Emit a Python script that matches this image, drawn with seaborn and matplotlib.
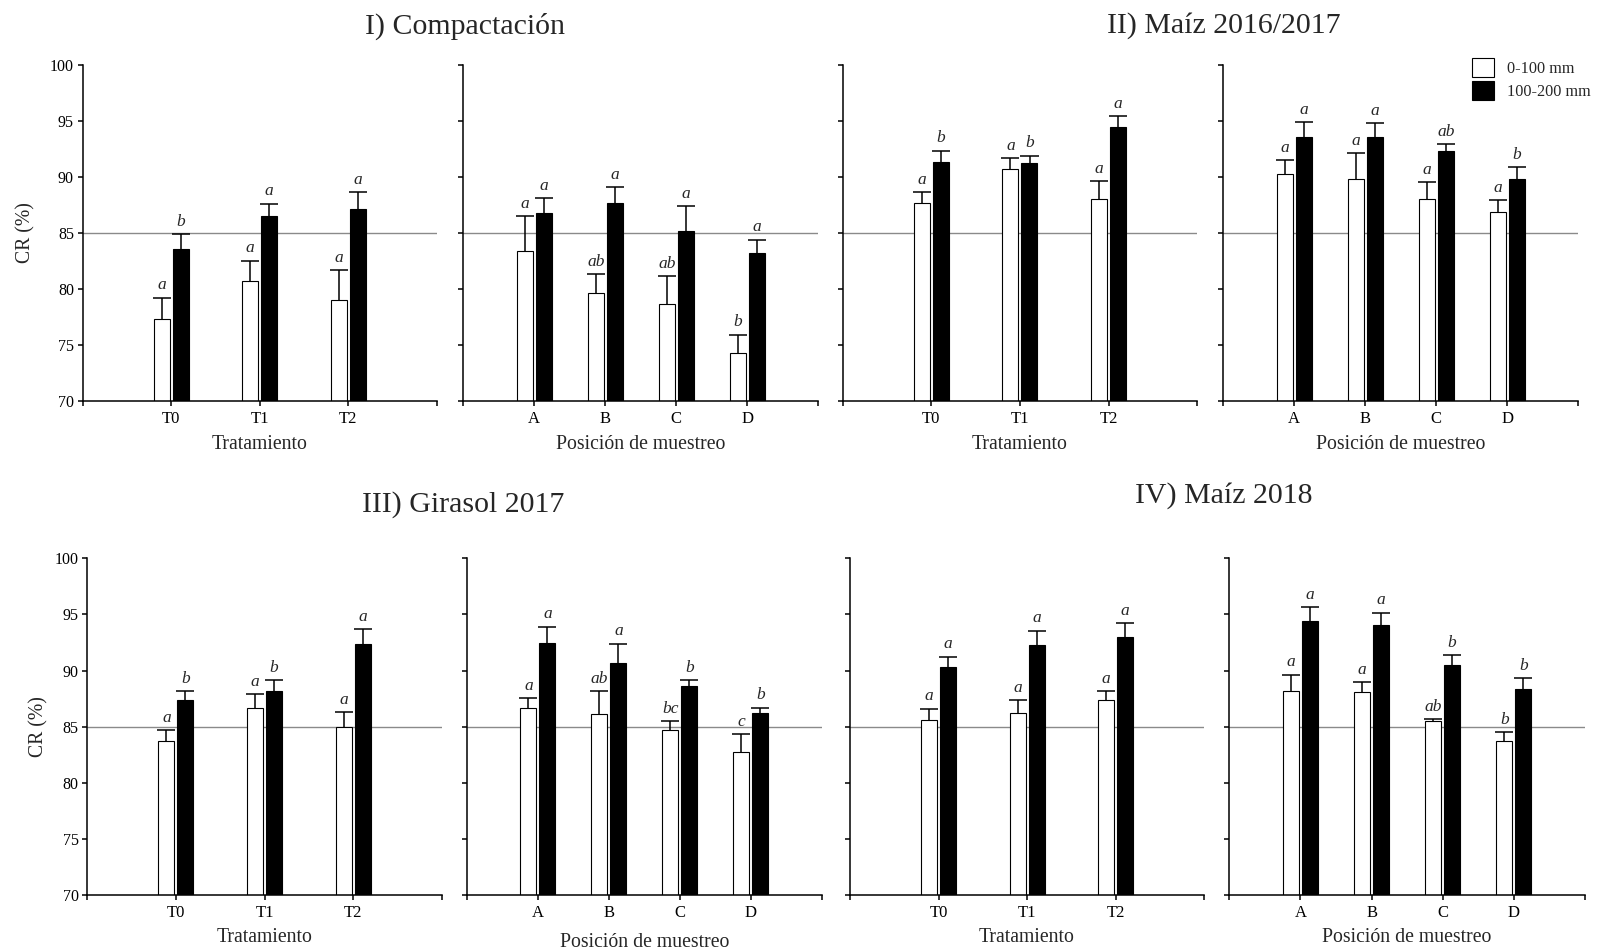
import matplotlib
matplotlib.use("Agg")
import matplotlib.pyplot as plt
import pandas as pd
import seaborn as sns
from matplotlib.patches import Patch

# ---------------------------------------------------------------- data
treatments = ["T0", "T1", "T2"]
positions = ["A", "B", "C", "D"]
depths = ["0-100 mm", "100-200 mm"]

# I) Compactación - Tratamiento
comp_trat_shallow = [77.3, 80.7, 79.0]
comp_trat_shallow_se = [1.9, 1.8, 2.65]
comp_trat_deep = [83.6, 86.5, 87.1]
comp_trat_deep_se = [1.3, 1.1, 1.55]
comp_trat_shallow_let = ["a", "a", "a"]
comp_trat_deep_let = ["b", "a", "a"]

# I) Compactación - Posición de muestreo
comp_pos_shallow = [83.4, 79.6, 78.6, 74.3]
comp_pos_shallow_se = [3.1, 1.7, 2.55, 1.6]
comp_pos_deep = [86.8, 87.7, 85.2, 83.2]
comp_pos_deep_se = [1.3, 1.4, 2.2, 1.2]
comp_pos_shallow_let = ["a", "ab", "ab", "b"]
comp_pos_deep_let = ["a", "a", "a", "a"]

# II) Maíz 2016/2017 - Tratamiento
m17_trat_shallow = [87.7, 90.7, 88.0]
m17_trat_shallow_se = [0.95, 1.0, 1.6]
m17_trat_deep = [91.35, 91.2, 94.5]
m17_trat_deep_se = [1.0, 0.7, 0.9]
m17_trat_shallow_let = ["a", "a", "a"]
m17_trat_deep_let = ["b", "b", "a"]

# II) Maíz 2016/2017 - Posición de muestreo
m17_pos_shallow = [90.3, 89.8, 88.0, 86.9]
m17_pos_shallow_se = [1.2, 2.3, 1.5, 1.05]
m17_pos_deep = [93.6, 93.6, 92.3, 89.8]
m17_pos_deep_se = [1.3, 1.2, 0.6, 1.05]
m17_pos_shallow_let = ["a", "a", "a", "a"]
m17_pos_deep_let = ["a", "a", "ab", "b"]

# III) Girasol 2017 - Tratamiento
gir_trat_shallow = [83.75, 86.7, 85.0]
gir_trat_shallow_se = [0.95, 1.2, 1.3]
gir_trat_deep = [87.35, 88.15, 92.4]
gir_trat_deep_se = [0.8, 1.0, 1.3]
gir_trat_shallow_let = ["a", "a", "a"]
gir_trat_deep_let = ["b", "b", "a"]

# III) Girasol 2017 - Posición de muestreo
gir_pos_shallow = [86.7, 86.15, 84.75, 82.75]
gir_pos_shallow_se = [0.85, 2.0, 0.75, 1.6]
gir_pos_deep = [92.45, 90.7, 88.65, 86.25]
gir_pos_deep_se = [1.45, 1.7, 0.5, 0.45]
gir_pos_shallow_let = ["a", "ab", "bc", "c"]
gir_pos_deep_let = ["a", "a", "b", "b"]

# IV) Maíz 2018 - Tratamiento
m18_trat_shallow = [85.6, 86.25, 87.35]
m18_trat_shallow_se = [1.0, 1.1, 0.8]
m18_trat_deep = [90.3, 92.25, 92.95]
m18_trat_deep_se = [0.95, 1.3, 1.25]
m18_trat_shallow_let = ["a", "a", "a"]
m18_trat_deep_let = ["a", "a", "a"]

# IV) Maíz 2018 - Posición de muestreo
m18_pos_shallow = [88.15, 88.1, 85.55, 83.7]
m18_pos_shallow_se = [1.5, 0.85, 0.1, 0.8]
m18_pos_deep = [94.4, 94.1, 90.5, 88.35]
m18_pos_deep_se = [1.25, 1.05, 0.9, 0.95]
m18_pos_shallow_let = ["a", "a", "ab", "b"]
m18_pos_deep_let = ["a", "a", "b", "b"]

titles = ["I) Compactación", "II) Maíz 2016/2017", "III) Girasol 2017", "IV) Maíz 2018"]
xlabel_trat = "Tratamiento"
xlabel_pos = "Posición de muestreo"
ylabel = "CR (%)"
threshold = 85

# ---------------------------------------------------------------- style
sns.set_style("ticks")
plt.rcParams["font.family"] = ["Liberation Serif", "DejaVu Serif"]
plt.rcParams["axes.linewidth"] = 1.1

FIG_W, FIG_H = 1600, 950
fig = plt.figure(figsize=(FIG_W / 100, FIG_H / 100), dpi=100)


def rect(left, top, width, height):
    return [left / FIG_W, 1 - (top + height) / FIG_H, width / FIG_W, height / FIG_H]


def draw_panel(box, cats, shallow, shallow_se, deep, deep_se, shallow_let, deep_let,
               xlabel, show_y, xlabel_y):
    ax = fig.add_axes(rect(*box))
    n = len(cats)
    df = pd.DataFrame({
        "cat": cats * 2,
        "CR": shallow + deep,
        "depth": [depths[0]] * n + [depths[1]] * n,
    })
    ppu = box[2] / (n + 1)          # pixels per category unit
    sns.barplot(data=df, x="cat", y="CR", hue="depth", order=cats, hue_order=depths,
                palette=["white", "black"], saturation=1, edgecolor="black",
                linewidth=0.8, width=2 * 19 / ppu, gap=3 / 19, errorbar=None,
                legend=False, ax=ax, zorder=2)
    ax.axhline(threshold, color="#8a8a8a", lw=1.0, zorder=1)

    cap = 9 / ppu
    for container, vals, ses, lets in zip(ax.containers, [shallow, deep],
                                          [shallow_se, deep_se], [shallow_let, deep_let]):
        for patch, v, s, lab in zip(container.patches, vals, ses, lets):
            xc = patch.get_x() + patch.get_width() / 2
            ax.vlines(xc, v, v + s, color="black", lw=1.1, zorder=3)
            ax.hlines(v + s, xc - cap, xc + cap, color="black", lw=1.1, zorder=3)
            ax.annotate(lab, (xc, v + s), xytext=(0, 6), textcoords="offset points",
                        ha="center", va="baseline", fontstyle="italic", fontsize=12.5)

    ax.set_xlim(-1, n)
    ax.set_ylim(70, 100)
    ax.set_yticks(range(70, 101, 5))
    ax.set_xticks(range(n))
    ax.set_xticklabels(cats)
    ax.set_xticks([-1, n], minor=True)
    ax.tick_params(axis="x", which="both", direction="out", length=3.8, width=1.1,
                   labelsize=12, pad=3.5, colors="black")
    ax.tick_params(axis="y", direction="out", length=3.8, width=1.1, labelsize=11.5,
                   pad=2.5, labelleft=show_y, colors="black")
    sns.despine(ax=ax)
    for sp in ("left", "bottom"):
        ax.spines[sp].set_color("black")

    ax.set_xlabel(xlabel, fontsize=14.2)
    ax.xaxis.label.set_va("center")
    ax.xaxis.set_label_coords(0.5, xlabel_y)
    if show_y:
        ax.set_ylabel(ylabel, fontsize=14.2)
        ax.yaxis.label.set_va("center")
    else:
        ax.set_ylabel("")
    return ax


TOP, TOP_H = 65, 335.7
BOT, BOT_H = 558.3, 337

ax1 = draw_panel((82.7, TOP, 354, TOP_H), treatments, comp_trat_shallow, comp_trat_shallow_se,
                 comp_trat_deep, comp_trat_deep_se, comp_trat_shallow_let, comp_trat_deep_let,
                 xlabel_trat, True, -0.131)
ax1.yaxis.set_label_coords(-0.16, 0.5)
draw_panel((463.3, TOP, 355, TOP_H), positions, comp_pos_shallow, comp_pos_shallow_se,
           comp_pos_deep, comp_pos_deep_se, comp_pos_shallow_let, comp_pos_deep_let,
           xlabel_pos, False, -0.131)
draw_panel((842.7, TOP, 354.6, TOP_H), treatments, m17_trat_shallow, m17_trat_shallow_se,
           m17_trat_deep, m17_trat_deep_se, m17_trat_shallow_let, m17_trat_deep_let,
           xlabel_trat, False, -0.131)
draw_panel((1223.3, TOP, 355, TOP_H), positions, m17_pos_shallow, m17_pos_shallow_se,
           m17_pos_deep, m17_pos_deep_se, m17_pos_shallow_let, m17_pos_deep_let,
           xlabel_pos, False, -0.131)

ax5 = draw_panel((87.3, BOT, 354.4, BOT_H), treatments, gir_trat_shallow, gir_trat_shallow_se,
                 gir_trat_deep, gir_trat_deep_se, gir_trat_shallow_let, gir_trat_deep_let,
                 xlabel_trat, True, -0.124)
ax5.yaxis.set_label_coords(-0.138, 0.5)
draw_panel((467, BOT, 354.7, BOT_H), positions, gir_pos_shallow, gir_pos_shallow_se,
           gir_pos_deep, gir_pos_deep_se, gir_pos_shallow_let, gir_pos_deep_let,
           xlabel_pos, False, -0.141)
draw_panel((850, BOT, 354, BOT_H), treatments, m18_trat_shallow, m18_trat_shallow_se,
           m18_trat_deep, m18_trat_deep_se, m18_trat_shallow_let, m18_trat_deep_let,
           xlabel_trat, False, -0.124)
draw_panel((1229.3, BOT, 355.7, BOT_H), positions, m18_pos_shallow, m18_pos_shallow_se,
           m18_pos_deep, m18_pos_deep_se, m18_pos_shallow_let, m18_pos_deep_let,
           xlabel_pos, False, -0.124)

# section titles
for txt, (px, py) in zip(titles, [(465, 26), (1224, 26), (463, 505), (1223.5, 496)]):
    fig.text(px / FIG_W, 1 - py / FIG_H, txt, ha="center", va="center", fontsize=21.5)

# depth legend
handles = [Patch(facecolor="white", edgecolor="black", lw=0.8, label=depths[0]),
           Patch(facecolor="black", edgecolor="black", lw=0.8, label=depths[1])]
fig.legend(handles=handles, loc="upper left", bbox_to_anchor=(1471.7 / FIG_W, 1 - 58 / FIG_H),
           frameon=False, borderpad=0, borderaxespad=0, handlelength=1.38,
           handleheight=1.38, handletextpad=0.8, labelspacing=0.28, fontsize=11.7)

fig.savefig("out.png", dpi=100)
